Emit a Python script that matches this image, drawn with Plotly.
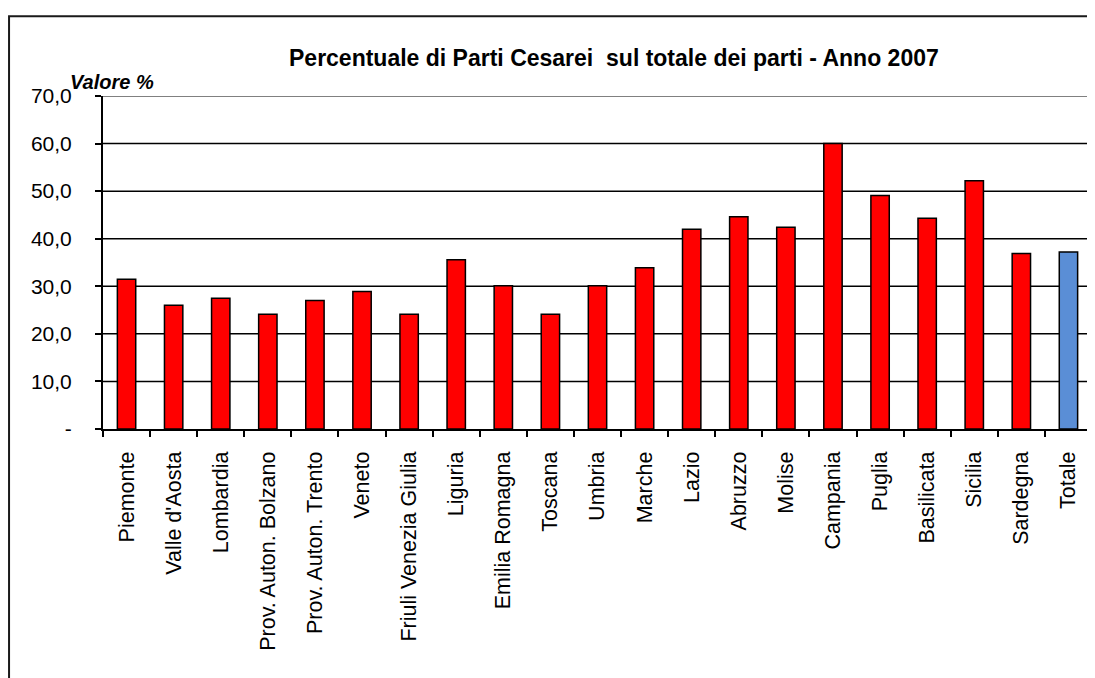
import plotly.graph_objects as go

categories = ["Piemonte", "Valle d'Aosta", "Lombardia", "Prov. Auton. Bolzano",
              "Prov. Auton. Trento", "Veneto", "Friuli Venezia Giulia", "Liguria",
              "Emilia Romagna", "Toscana", "Umbria", "Marche", "Lazio", "Abruzzo",
              "Molise", "Campania", "Puglia", "Basilicata", "Sicilia", "Sardegna", "Totale"]
values = [31.5, 26.0, 27.5, 24.1, 27.0, 28.9, 24.1, 35.6, 30.1, 24.1, 30.1, 33.9,
          42.0, 44.6, 42.4, 60.0, 49.1, 44.3, 52.2, 36.9, 37.2]
tick_vals = [0, 10, 20, 30, 40, 50, 60, 70]
tick_text = ["-", "10,0", "20,0", "30,0", "40,0", "50,0", "60,0", "70,0"]
title_text = "Percentuale di Parti Cesarei  sul totale dei parti - Anno 2007"
ytitle_text = "Valore %"

OFF = 8  # page body margin
W, H = 1095 - OFF, 678 - OFF
L, R, T, B = 102.5 - OFF, 1092 - OFF, 95.5 - OFF, 429.5 - OFF
pw, ph = R - L, B - T

def px(x):
    return (x - OFF - L) / pw

def py(y):
    return (B - (y - OFF)) / ph

colors = ["#FF0000"] * (len(categories) - 1) + ["#5A8ED6"]
FONT = "Arial, Liberation Sans, sans-serif"

fig = go.Figure()
fig.add_trace(go.Bar(
    x=categories, y=values, width=0.39,
    marker=dict(color=colors, line=dict(color="#000000", width=1.5)),
))

shapes = []
for v in tick_vals[1:-1]:
    shapes.append(dict(type="line", xref="paper", yref="y", x0=0, x1=1, y0=v, y1=v,
                       line=dict(color="#000000", width=1.5), layer="below"))
shapes.append(dict(type="line", xref="paper", yref="y", x0=0, x1=1, y0=70, y1=70,
                   line=dict(color="#808080", width=2), layer="below"))
shapes.append(dict(type="line", xref="paper", yref="y", x0=1, x1=1, y0=0, y1=70,
                   line=dict(color="#808080", width=2), layer="below"))
shapes.append(dict(type="rect", xref="paper", yref="paper",
                   x0=px(8.5), x1=px(1120), y0=py(15.5), y1=py(720),
                   line=dict(color="#1a1a1a", width=2), fillcolor="rgba(0,0,0,0)"))

fig.update_layout(
    width=W, height=H,
    margin=dict(l=L, r=W - R, t=T, b=H - B, pad=0),
    paper_bgcolor="white", plot_bgcolor="white",
    showlegend=False,
    font=dict(family=FONT, color="#000000"),
    shapes=shapes,
    annotations=[
        dict(text="<b>" + title_text + "</b>", xref="paper", yref="paper",
             x=px(614), y=py(57), xanchor="center", yanchor="middle",
             showarrow=False, font=dict(size=23, family=FONT)),
        dict(text="<b><i>" + ytitle_text + "</i></b>", xref="paper", yref="paper",
             x=px(67), y=py(81), xanchor="left", yanchor="middle",
             showarrow=False, font=dict(size=20, family=FONT)),
    ],
)
fig.update_xaxes(
    type="category", showgrid=False, showline=True, linecolor="#000000", linewidth=2,
    ticks="outside", ticklen=6, tickcolor="#000000", tickwidth=1.5,
    tickson="boundaries", tickangle=-90, ticklabelstandoff=12,
    tickfont=dict(size=21.5, family=FONT, color="#000000"),
    range=[-0.5, len(categories) - 0.5], zeroline=False,
)
fig.update_yaxes(
    range=[0, 70], tickvals=tick_vals, ticktext=tick_text, showgrid=False,
    showline=True, linecolor="#000000", linewidth=2,
    ticks="outside", ticklen=6, tickcolor="#000000", tickwidth=1.5,
    ticklabelstandoff=19, zeroline=False,
    tickfont=dict(size=21, family=FONT, color="#000000"),
)

fig.write_html("out.html")
